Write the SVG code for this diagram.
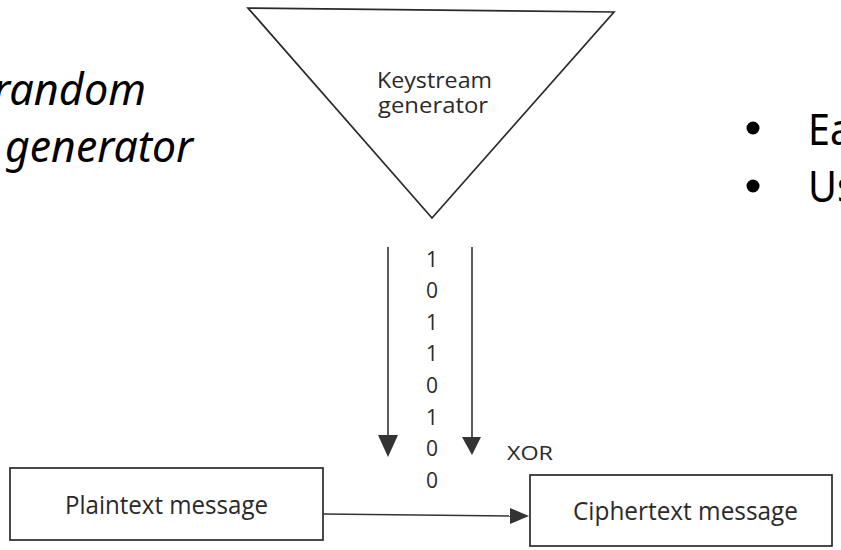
<svg xmlns="http://www.w3.org/2000/svg" width="841" height="550" viewBox="0 0 841 550">
<style>
.fig{font-family:"Open Sans","Noto Sans","Liberation Sans",sans-serif;fill:#2a2a2a}
.slide{font-family:"Noto Sans","Open Sans","Liberation Sans",sans-serif;fill:#000}
.shape{fill:none;stroke:#2a2a2a;stroke-width:1.7}
.conn{stroke:#333;stroke-width:1.6;fill:none}
.head{fill:#333}
</style>
<rect width="841" height="550" fill="#fff"/>
<g id="slide-text">
<text class="slide" font-style="italic" font-size="44" x="-7" y="105" textLength="153" lengthAdjust="spacingAndGlyphs">random</text>
<text class="slide" font-style="italic" font-size="44" x="5" y="162" textLength="188" lengthAdjust="spacingAndGlyphs">generator</text>
<circle cx="753" cy="128" r="6.5" fill="#000"/>
<circle cx="753" cy="186" r="6.5" fill="#000"/>
<text class="slide" font-size="44" x="808" y="145" textLength="44" lengthAdjust="spacingAndGlyphs">Ea</text>
<text class="slide" font-size="44" x="808" y="202" textLength="48" lengthAdjust="spacingAndGlyphs">Us</text>
</g>
<g id="keystream-generator">
<polygon class="shape" points="248,8 614,12 432,218"/>
<text class="fig" font-size="21" x="377" y="88" textLength="115" lengthAdjust="spacingAndGlyphs">Keystream</text>
<text class="fig" font-size="21" x="378" y="113" textLength="110" lengthAdjust="spacingAndGlyphs">generator</text>
</g>
<g id="bits" class="fig" font-size="21" text-anchor="middle">
<text x="432" y="267">1</text>
<text x="432" y="298">0</text>
<text x="432" y="330">1</text>
<text x="432" y="361">1</text>
<text x="432" y="393">0</text>
<text x="432" y="425">1</text>
<text x="432" y="456">0</text>
<text x="432" y="488">0</text>
</g>
<g id="xor-label">
<text class="fig" font-size="20" x="507" y="460" textLength="46" lengthAdjust="spacingAndGlyphs">XOR</text>
</g>
<g id="plaintext-message">
<rect class="shape" x="10" y="468" width="313" height="72"/>
<text class="fig" font-size="25" x="65" y="514" textLength="203" lengthAdjust="spacingAndGlyphs">Plaintext message</text>
</g>
<g id="ciphertext-message">
<rect class="shape" x="530" y="475" width="302" height="71"/>
<text class="fig" font-size="25" x="573" y="520" textLength="225" lengthAdjust="spacingAndGlyphs">Ciphertext message</text>
</g>
<g id="connectors">
<line class="conn" x1="388" y1="247" x2="388" y2="440"/>
<polygon class="head" points="378,435 398,435 388,457"/>
<line class="conn" x1="472" y1="247" x2="472" y2="440"/>
<polygon class="head" points="462,437 481,437 472,455"/>
<line class="conn" x1="323" y1="514" x2="512" y2="516"/>
<polygon class="head" points="510,508 510,524 529,516"/>
</g>
</svg>
